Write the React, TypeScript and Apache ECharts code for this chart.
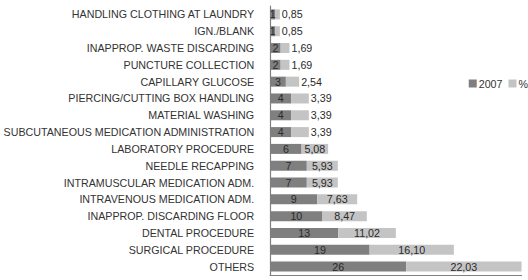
import React, { useEffect, useRef } from "react";
import * as echarts from "echarts";

const categories = [
  "HANDLING CLOTHING AT LAUNDRY",
  "IGN./BLANK",
  "INAPPROP. WASTE DISCARDING",
  "PUNCTURE COLLECTION",
  "CAPILLARY GLUCOSE",
  "PIERCING/CUTTING BOX HANDLING",
  "MATERIAL WASHING",
  "SUBCUTANEOUS MEDICATION ADMINISTRATION",
  "LABORATORY PROCEDURE",
  "NEEDLE RECAPPING",
  "INTRAMUSCULAR MEDICATION ADM.",
  "INTRAVENOUS MEDICATION ADM.",
  "INAPPROP. DISCARDING FLOOR",
  "DENTAL PROCEDURE",
  "SURGICAL PROCEDURE",
  "OTHERS",
];
const counts2007 = [1, 1, 2, 2, 3, 4, 4, 4, 6, 7, 7, 9, 10, 13, 19, 26];
const percents = [0.85, 0.85, 1.69, 1.69, 2.54, 3.39, 3.39, 3.39, 5.08, 5.93, 5.93, 7.63, 8.47, 11.02, 16.1, 22.03];

const fmt = (v: number) => v.toFixed(2).replace(".", ",");

export default function App() {
  const ref = useRef<HTMLDivElement>(null);
  useEffect(() => {
    if (!ref.current) return;
    const chart = echarts.init(ref.current, undefined, { renderer: "svg" });
    const maxTotal = Math.max(...counts2007.map((c, i) => c + percents[i]));
    const font = "Liberation Sans";
    chart.setOption({
      animation: false,
      textStyle: { fontFamily: font },
      legend: {
        right: 0,
        top: 78,
        padding: 0,
        itemWidth: 8,
        itemHeight: 8,
        itemGap: 6,
        icon: "rect",
        textStyle: { fontSize: 10.7, color: "#333", fontFamily: font, padding: [0, 0, 0, -3] },
        data: ["2007", "%"],
      },
      grid: { left: 268, right: 6.5, top: 6, bottom: 5, containLabel: false },
      xAxis: {
        type: "value",
        min: 0,
        max: maxTotal,
        position: "bottom",
        axisLine: { show: true, onZero: false, lineStyle: { color: "#808080", width: 1.2 } },
        axisTick: { show: false },
        axisLabel: { show: false },
        splitLine: { show: false },
      },
      yAxis: {
        type: "category",
        inverse: true,
        data: categories,
        axisLine: { show: true, onZero: false, lineStyle: { color: "#808080", width: 1.2 } },
        axisTick: { show: false },
        axisLabel: { fontSize: 10.7, color: "#333", margin: 16, fontFamily: font },
      },
      series: [
        {
          name: "2007",
          type: "bar",
          stack: "a",
          barWidth: 10,
          itemStyle: { color: "#7f7f7f" },
          label: {
            show: true,
            position: "inside",
            color: "#2a2a2a",
            fontSize: 10.7,
            fontFamily: font,
          },
          data: counts2007,
        },
        {
          name: "%",
          type: "bar",
          stack: "a",
          barWidth: 10,
          itemStyle: { color: "#c4c4c4" },
          data: percents.map((v) => ({
            value: v,
            label: {
              show: true,
              position: v < 5 ? "right" : "inside",
              distance: 2,
              color: "#2a2a2a",
              fontSize: 10.7,
              fontFamily: font,
              formatter: () => fmt(v),
            },
          })),
        },
      ],
    });
    return () => chart.dispose();
  }, []);
  return (
    <div style={{ position: "fixed", left: 0, top: 0, width: 528, height: 280, overflow: "hidden", background: "#fff" }}>
      <div ref={ref} style={{ width: 528, height: 280 }} />
    </div>
  );
}
